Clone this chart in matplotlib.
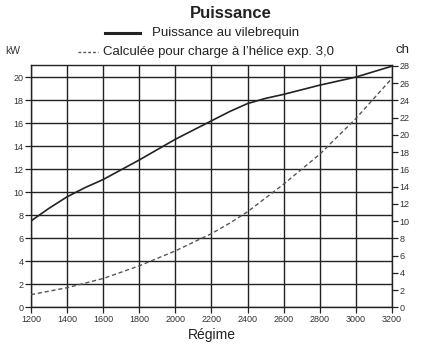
import numpy as np
import matplotlib.pyplot as plt
from matplotlib.lines import Line2D

plt.rcParams['font.family'] = ['Liberation Sans', 'DejaVu Sans']

# regime (tr/min)
rpm = [1200, 1300, 1400, 1500, 1600, 1800, 2000, 2200, 2300, 2400, 2500, 2600, 2800, 3000, 3200]
# puissance au vilebrequin (kW)
p_crank = [7.5, 8.6, 9.6, 10.4, 11.1, 12.8, 14.6, 16.2, 17.0, 17.7, 18.15, 18.5, 19.3, 20.0, 20.95]
# calculee pour charge a l'helice exp. 3,0 (kW)
p_prop = [1.1, 1.4, 1.7, 2.1, 2.5, 3.6, 4.9, 6.4, 7.3, 8.3, 9.5, 10.7, 13.3, 16.4, 19.9]

x_ticks = list(range(1200, 3201, 200))
kw_ticks = list(range(0, 21, 2))
ch_ticks = list(range(0, 29, 2))

ink = '#222222'
lab = '#333333'

fig = plt.figure(figsize=(4.24, 3.54), dpi=100)
ax = fig.add_axes([0.0731, 0.132, 0.8514, 0.6844])

ax.plot(rpm, p_crank, color=ink, lw=1.2, zorder=3)
ax.plot(rpm, p_prop, color='#555555', lw=1.0, ls=(0, (3, 2)), zorder=3)

ax.set_xlim(1200, 3200)
ax.set_ylim(0, 21.05)
ax.set_xticks(x_ticks)
ax.set_yticks(kw_ticks)
ax.grid(True, color=ink, lw=1.0)
ax.set_axisbelow(True)
for s in ax.spines.values():
    s.set_color(ink)
    s.set_linewidth(1.0)
ax.tick_params(axis='both', direction='out', length=4, width=0.9, color=ink,
               labelsize=6.5, labelcolor=lab, pad=1.5)

ax2 = ax.twinx()
ax2.set_ylim(0, 28.1)
ax2.set_yticks(ch_ticks)
ax2.tick_params(axis='y', direction='out', length=4, width=0.9, color=ink,
                labelsize=6.5, labelcolor=lab, pad=1.5)
for s in ax2.spines.values():
    s.set_visible(False)

ax.set_xlabel('Régime', fontsize=10, color=ink, labelpad=3)

fig.text(0.545, 0.962, 'Puissance', ha='center', va='center',
         fontsize=12, fontweight='bold', color=ink)

# legende
fig.add_artist(Line2D([105 / 424, 140 / 424], [1 - 33 / 354, 1 - 33 / 354],
                      color=ink, lw=2.2))
fig.text(152 / 424, 1 - 33 / 354, 'Puissance au vilebrequin', ha='left',
         va='center', fontsize=9.5, color=ink)
fig.add_artist(Line2D([78 / 424, 98 / 424], [1 - 52 / 354, 1 - 52 / 354],
                      color='#555555', lw=1.0, ls=(0, (2, 1.5))))
fig.text(103 / 424, 1 - 52 / 354, 'Calculée pour charge à l\u2019hélice exp. 3,0',
         ha='left', va='center', fontsize=9.5, color=ink)

fig.text(5 / 424, 1 - 51 / 354, 'kW', ha='left', va='center', fontsize=7.5, color=lab)
fig.text(395 / 424, 1 - 50 / 354, 'ch', ha='left', va='center', fontsize=9.5, color=ink)

fig.savefig('out.png', dpi=100)
